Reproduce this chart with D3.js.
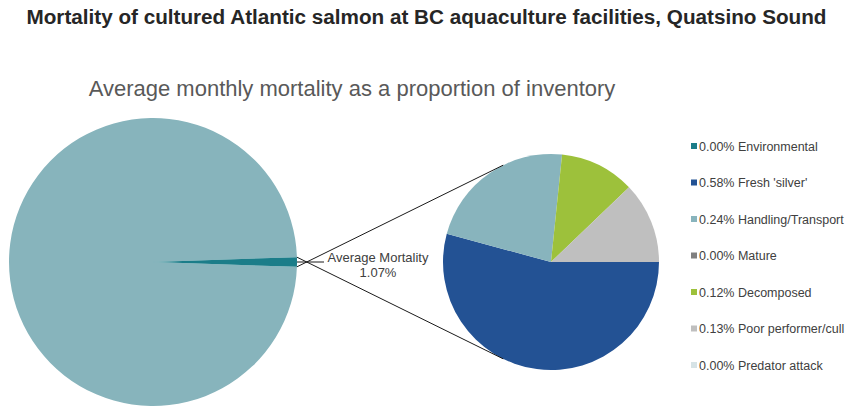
<!DOCTYPE html>
<html>
<head>
<meta charset="utf-8">
<script src="https://cdn.jsdelivr.net/npm/d3@7"></script>
<style>
  body { margin: 0; background: #fff; }
  text { font-family: "Liberation Sans", Arial, sans-serif; }
</style>
</head>
<body>
<div id="chart-container"></div>
<script>
// mortality causes (percent of inventory), in legend order
const causes = ["Environmental", "Fresh 'silver'", "Handling/Transport", "Mature", "Decomposed", "Poor performer/cull", "Predator attack"];
const causeValues = [0.00, 0.58, 0.24, 0.00, 0.12, 0.13, 0.00];
const causeColors = ["#1b7d89", "#235294", "#88b4bd", "#808080", "#9dc13b", "#bfbfbf", "#d6e3e6"];

// first pie: survivors vs. the combined mortality slice
const mainLabels = ["Survived", "Average Mortality"];
const mainValues = [98.93, 1.07];
const mainColors = ["#87b4bc", "#1b7d89"];

const svgWidth = 857;
const svgHeight = 416;

const svg = d3.select("#chart-container")
    .append("svg")
    .attr("width", svgWidth)
    .attr("height", svgHeight);

svg.append("text")
    .attr("x", svgWidth / 2 - 2)
    .attr("y", 24)
    .attr("text-anchor", "middle")
    .attr("font-size", "20px")
    .attr("font-weight", "bold")
    .attr("fill", "#262626")
    .attr("textLength", 800)
    .attr("lengthAdjust", "spacingAndGlyphs")
    .text("Mortality of cultured Atlantic salmon at BC aquaculture facilities, Quatsino Sound");

svg.append("text")
    .attr("x", 352)
    .attr("y", 96)
    .attr("text-anchor", "middle")
    .attr("font-size", "22px")
    .attr("fill", "#595959")
    .text("Average monthly mortality as a proportion of inventory");

// big pie, mortality slice centred on 3 o'clock
const bigC = { x: 153, y: 262 }, bigR = 144;
const half = Math.PI * mainValues[1] / 100;
const bigPie = d3.pie().sort(null)
    .startAngle(Math.PI / 2 + half)
    .endAngle(Math.PI / 2 + half + 2 * Math.PI);
const bigArc = d3.arc().innerRadius(0).outerRadius(bigR);

svg.append("g")
    .attr("transform", `translate(${bigC.x},${bigC.y})`)
    .selectAll("path")
    .data(bigPie(mainValues))
    .enter()
    .append("path")
    .attr("d", bigArc)
    .attr("fill", (d, i) => mainColors[i]);

// small pie
const smallC = { x: 551, y: 262 }, smallR = 108;
const smallPie = d3.pie().sort(null)
    .startAngle(Math.PI / 2)
    .endAngle(Math.PI / 2 + 2 * Math.PI);
const smallArc = d3.arc().innerRadius(0).outerRadius(smallR);

svg.append("g")
    .attr("transform", `translate(${smallC.x},${smallC.y})`)
    .selectAll("path")
    .data(smallPie(causeValues).filter(d => d.value > 0))
    .enter()
    .append("path")
    .attr("d", smallArc)
    .attr("fill", d => causeColors[d.index]);

// connector lines: slice edges -> tangent points on small pie
function tangent(px, py, sign) {
    const dx = px - smallC.x, dy = py - smallC.y;
    const d = Math.sqrt(dx * dx + dy * dy);
    const base = Math.atan2(dy, dx);
    const t = base + sign * Math.acos(smallR / d);
    return [smallC.x + smallR * Math.cos(t), smallC.y + smallR * Math.sin(t)];
}
[-1, 1].forEach(s => {
    const px = bigC.x + bigR * Math.cos(s * half);
    const py = bigC.y + bigR * Math.sin(s * half);
    const [tx, ty] = tangent(px, py, s);
    svg.append("line")
        .attr("x1", px).attr("y1", py)
        .attr("x2", tx).attr("y2", ty)
        .attr("stroke", "#1a1a1a")
        .attr("stroke-width", 1);
});

// leader to the label
svg.append("line")
    .attr("x1", bigC.x + bigR).attr("y1", bigC.y)
    .attr("x2", bigC.x + bigR + 27).attr("y2", bigC.y)
    .attr("stroke", "#1a1a1a")
    .attr("stroke-width", 1);

svg.append("text")
    .attr("x", 378)
    .attr("y", 262)
    .attr("text-anchor", "middle")
    .attr("font-size", "13px")
    .attr("fill", "#404040")
    .text(mainLabels[1]);
svg.append("text")
    .attr("x", 378)
    .attr("y", 277)
    .attr("text-anchor", "middle")
    .attr("font-size", "13px")
    .attr("fill", "#404040")
    .text(mainValues[1].toFixed(2) + "%");

// legend
const legend = svg.append("g").attr("transform", "translate(691,146)");
causes.forEach((c, i) => {
    const y = i * 36.5;
    legend.append("rect")
        .attr("x", 0).attr("y", y - 3)
        .attr("width", 6).attr("height", 6)
        .attr("fill", causeColors[i]);
    legend.append("text")
        .attr("x", 8).attr("y", y + 4.5)
        .attr("font-size", "12.5px")
        .attr("fill", "#404040")
        .text(causeValues[i].toFixed(2) + "% " + c);
});
</script>
</body>
</html>
